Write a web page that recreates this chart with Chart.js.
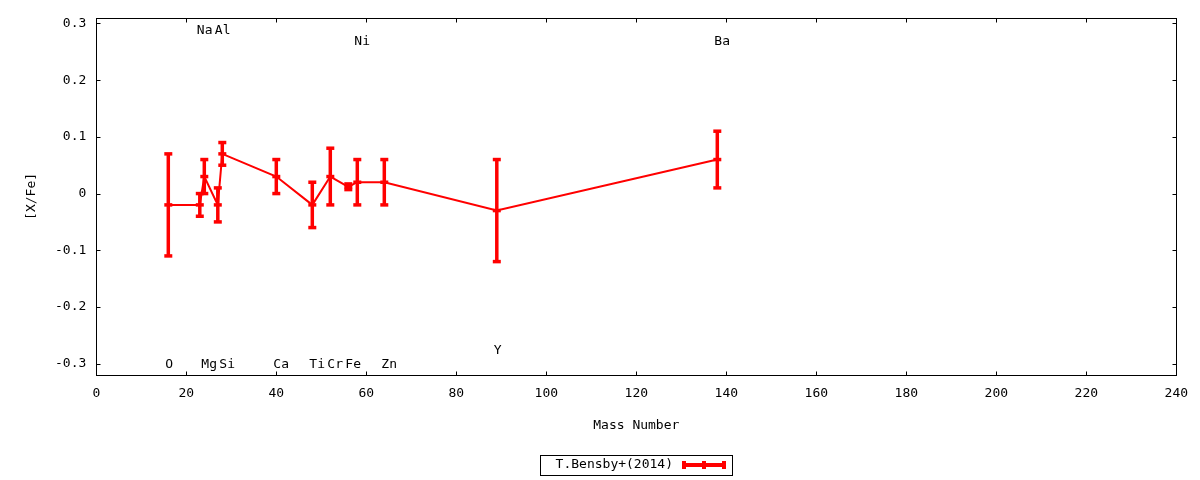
<!DOCTYPE html>
<html>
<head>
<meta charset="utf-8">
<script src="https://cdn.jsdelivr.net/npm/chart.js@4"></script>
<style>
  html, body { margin: 0; padding: 0; background: #fff; }
  canvas { display: block; }
</style>
</head>
<body>
<canvas id="chart" width="1200" height="480"></canvas>
<script>
// abundance pattern
const elements = ["O", "Na", "Mg", "Al", "Si", "Ca", "Ti", "Cr", "Fe", "Ni", "Zn", "Y", "Ba"];
const massNumbers = [16, 23, 24, 27, 28, 40, 48, 52, 56, 58, 64, 89, 138];
const xFeValues = [-0.02, -0.02, 0.03, -0.02, 0.07, 0.03, -0.02, 0.03, 0.012, 0.02, 0.02, -0.03, 0.06];
const xFeErrors = [0.09, 0.02, 0.03, 0.03, 0.02, 0.03, 0.04, 0.05, 0.005, 0.04, 0.04, 0.09, 0.05];
// where each element name sits (y in data units)
const labelYs = [-0.3, 0.29, -0.3, 0.29, -0.3, -0.3, -0.3, -0.3, -0.3, 0.27, -0.3, -0.275, 0.27];

const xTicks = [0, 20, 40, 60, 80, 100, 120, 140, 160, 180, 200, 220, 240];
const yTicks = [-0.3, -0.2, -0.1, 0, 0.1, 0.2, 0.3];
const seriesLabel = "T.Bensby+(2014)";

const FONT = "DejaVu Sans Mono";
const RED = "#ff0000";

function drawCap(ctx, x, y, w) {
    ctx.beginPath();
    ctx.moveTo(x - w / 2, y);
    ctx.lineTo(x + w / 2, y);
    ctx.stroke();
}

const gnuplotLook = {
    id: "gnuplotLook",
    afterDatasetsDraw(chart) {
        const ctx = chart.ctx;
        const xs = chart.scales.x;
        const ys = chart.scales.y;
        const a = chart.chartArea;

        ctx.save();

        // error bars
        ctx.strokeStyle = RED;
        ctx.lineWidth = 3.5;
        massNumbers.forEach((m, i) => {
            const px = xs.getPixelForValue(m);
            const top = ys.getPixelForValue(xFeValues[i] + xFeErrors[i]);
            const bot = ys.getPixelForValue(xFeValues[i] - xFeErrors[i]);
            const mid = ys.getPixelForValue(xFeValues[i]);
            ctx.beginPath();
            ctx.moveTo(px, top);
            ctx.lineTo(px, bot);
            ctx.stroke();
            drawCap(ctx, px, top, 8);
            drawCap(ctx, px, bot, 8);
            drawCap(ctx, px, mid, 8);
        });

        // frame
        ctx.strokeStyle = "#000";
        ctx.lineWidth = 1;
        const L = Math.round(a.left) + 0.5, R = Math.round(a.right) + 0.5;
        const T = Math.round(a.top) + 0.5, B = Math.round(a.bottom) + 0.5;
        ctx.strokeRect(L, T, R - L, B - T);

        // inward ticks on all sides
        const tl = 4;
        ctx.beginPath();
        xTicks.forEach(v => {
            const px = Math.round(xs.getPixelForValue(v)) + 0.5;
            ctx.moveTo(px, B); ctx.lineTo(px, B - tl);
            ctx.moveTo(px, T); ctx.lineTo(px, T + tl);
        });
        yTicks.forEach(v => {
            const py = Math.round(ys.getPixelForValue(v)) + 0.5;
            ctx.moveTo(L, py); ctx.lineTo(L + tl, py);
            ctx.moveTo(R, py); ctx.lineTo(R - tl, py);
        });
        ctx.stroke();

        // element names
        ctx.fillStyle = "#000";
        ctx.font = "13px '" + FONT + "'";
        ctx.textAlign = "left";
        ctx.textBaseline = "middle";
        elements.forEach((el, i) => {
            ctx.fillText(el, xs.getPixelForValue(massNumbers[i]) - 3, ys.getPixelForValue(labelYs[i]) + 1);
        });

        // legend box
        ctx.strokeRect(540.5, 455.5, 192, 20);
        ctx.textAlign = "right";
        ctx.fillText(seriesLabel, 673, 465);
        ctx.strokeStyle = RED;
        ctx.lineWidth = 4;
        ctx.beginPath();
        ctx.moveTo(683, 465); ctx.lineTo(725, 465);
        [684, 704, 724].forEach(x => { ctx.moveTo(x, 461); ctx.lineTo(x, 469); });
        ctx.stroke();

        ctx.restore();
    }
};

new Chart(document.getElementById("chart"), {
    type: "scatter",
    data: {
        datasets: [{
            label: seriesLabel,
            data: massNumbers.map((m, i) => ({ x: m, y: xFeValues[i] })),
            showLine: true,
            borderColor: RED,
            borderWidth: 2,
            pointRadius: 0,
            tension: 0
        }]
    },
    options: {
        responsive: false,
        animation: false,
        devicePixelRatio: 1,
        layout: { padding: { top: 17, right: 23.7, left: 0, bottom: 0 } },
        plugins: { legend: { display: false }, tooltip: { enabled: false } },
        scales: {
            x: {
                type: "linear",
                min: 0,
                max: 240,
                afterBuildTicks: s => { s.ticks = xTicks.map(v => ({ value: v })); },
                afterFit: s => { s.height = 105; },
                grid: { display: false, drawTicks: false },
                border: { display: false },
                ticks: {
                    autoSkip: false,
                    maxRotation: 0,
                    padding: 11,
                    color: "#000",
                    font: { family: FONT, size: 13 }
                },
                title: {
                    display: true,
                    text: "Mass Number",
                    color: "#000",
                    font: { family: FONT, size: 13 },
                    padding: { top: 0, bottom: 47 }
                }
            },
            y: {
                type: "linear",
                min: -0.32,
                max: 0.31,
                afterBuildTicks: s => { s.ticks = yTicks.map(v => ({ value: v })); },
                afterFit: s => { s.width = 96.3; },
                grid: { display: false, drawTicks: false },
                border: { display: false },
                ticks: {
                    padding: 10,
                    color: "#000",
                    font: { family: FONT, size: 13 },
                    callback: v => String(v)
                },
                title: {
                    display: true,
                    text: "[X/Fe]",
                    color: "#000",
                    font: { family: FONT, size: 13 },
                    padding: { top: 24, bottom: 0 }
                }
            }
        }
    },
    plugins: [gnuplotLook]
});
</script>
</body>
</html>
